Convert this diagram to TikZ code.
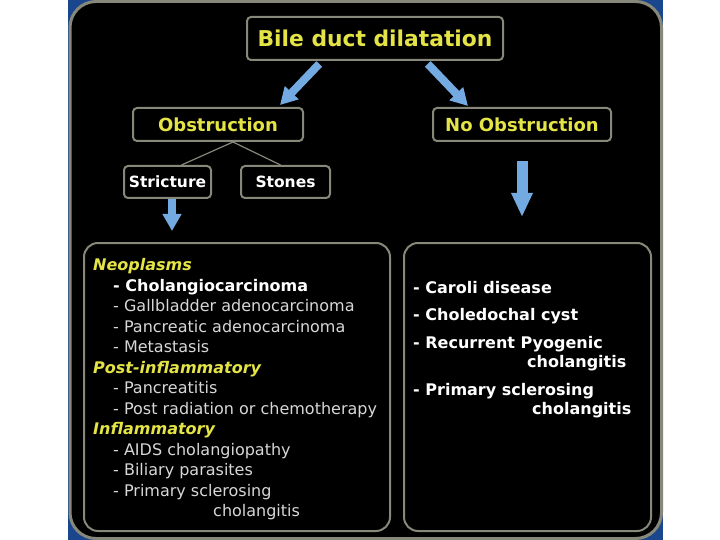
\documentclass[tikz,border=0pt]{standalone}
\usepackage{fontspec}
\setmainfont{DejaVu Sans}
\usetikzlibrary{positioning,arrows.meta,calc}
\definecolor{panelBlue}{RGB}{25,70,140}
\definecolor{frameGray}{RGB}{135,135,122}
\definecolor{headYellow}{RGB}{228,228,70}
\definecolor{listGray}{RGB}{215,215,215}
\definecolor{arrowBlue}{RGB}{115,170,225}
\tikzset{
    base/.style={align=center, inner sep=0pt},
    titlebox/.style={base, rectangle, rounded corners=4pt, draw=frameGray, line width=2pt,
                     fill=black, text=headYellow},
    casebox/.style={base, rectangle, rounded corners=4pt, draw=frameGray, line width=2pt,
                    fill=black, text=white, font=\fontsize{15.5}{18}\selectfont\bfseries},
    listbox/.style={rectangle, rounded corners=14pt, draw=frameGray, line width=2pt, fill=black},
    listtext/.style={align=left, inner sep=0pt, text=listGray, font=\fontsize{16}{20.5}\selectfont},
    fork/.style={draw=frameGray, line width=1.2pt},
    fatarrow/.style={-{Triangle[width=18pt,length=17pt]}, line width=8pt, color=arrowBlue},
    bigarrow/.style={-{Triangle[width=20pt,length=24pt]}, line width=11pt, color=arrowBlue}
}
\newcommand{\headline}[1]{{\color{headYellow}\bfseries\itshape #1}}
\newcommand{\subline}[1]{\hspace*{20pt}#1}

\begin{document}
\begin{tikzpicture}[x=1pt,y=-1pt]
  \useasboundingbox (0,0) rectangle (720,540);
  \fill[white] (0,0) rectangle (720,540);
  % panel
  \fill[panelBlue] (68,0) rectangle (663,540);
  \draw[frameGray, line width=3pt, fill=black, rounded corners=26pt] (70,1.5) rectangle (661.5,538.5);

  % boxes
  \node[titlebox, minimum width=256pt, minimum height=43pt,
        font=\fontsize{21.8}{26}\selectfont\bfseries] (bile) at (375,38.5) {Bile duct dilatation};
  \node[titlebox, minimum width=170pt, minimum height=33pt,
        font=\fontsize{18}{22}\selectfont\bfseries] (obs) at (218,124.5) {Obstruction};
  \node[titlebox, minimum width=178pt, minimum height=33pt,
        font=\fontsize{18}{22}\selectfont\bfseries] (noobs) at (522,124.5) {No Obstruction};
  \node[casebox, minimum width=87pt, minimum height=32pt] (strict) at (167.5,182) {Stricture};
  \node[casebox, minimum width=89pt, minimum height=32pt] (stones) at (285.5,182) {Stones};
  \node[listbox, minimum width=306pt, minimum height=288pt] (leftbox) at (237,387) {};
  \node[listbox, minimum width=247pt, minimum height=288pt] (rightbox) at (527.5,387) {};

  % lists (anchored at the baseline of the last line)
  \node[listtext, anchor=base west] (causes) at (93,516.5) {%
    \headline{Neoplasms}\\
    \subline{{\color{white}\bfseries - Cholangiocarcinoma}}\\
    \subline{- Gallbladder adenocarcinoma}\\
    \subline{- Pancreatic adenocarcinoma}\\
    \subline{- Metastasis}\\
    \headline{Post-inflammatory}\\
    \subline{- Pancreatitis}\\
    \subline{- Post radiation or chemotherapy}\\
    \headline{Inflammatory}\\
    \subline{- AIDS cholangiopathy}\\
    \subline{- Biliary parasites}\\
    \subline{- Primary sclerosing}\\
    \hspace*{120pt}cholangitis};
  \node[listtext, anchor=base west, text=white,
        font=\fontsize{16}{19.5}\selectfont\bfseries] (others) at (413,414.5) {%
    - Caroli disease\\[8pt]
    - Choledochal cyst\\[8pt]
    - Recurrent Pyogenic\\
    \hspace*{114pt}cholangitis\\[8pt]
    - Primary sclerosing\\
    \hspace*{119pt}cholangitis};

  % connectors
  \draw[fork] ($(obs.south)+(15,0)$) -- ($(strict.north)+(14,0)$);
  \draw[fork] ($(obs.south)+(15,0)$) -- ($(stones.north)+(-5,0)$);
  \draw[fatarrow, shorten <=4pt] ($(bile.south)+(-53,0)$) -- ($(obs.north)+(62,-2)$);
  \draw[fatarrow, shorten <=4pt] ($(bile.south)+(50,0)$) -- ($(noobs.north)+(-54,-1)$);
  \draw[bigarrow, shorten <=19pt, shorten >=25pt] (noobs.south) -- (noobs.south |- rightbox.north);
  \draw[fatarrow] ($(strict.south)+(4.5,0)$) -- ($(strict.south |- leftbox.north)+(4.5,-11)$);
\end{tikzpicture}
\end{document}
